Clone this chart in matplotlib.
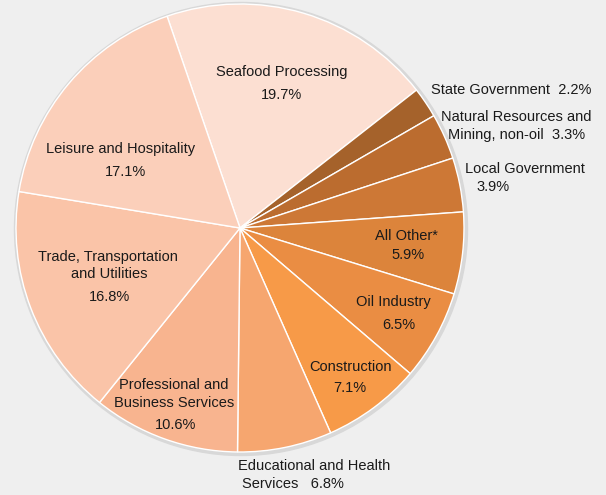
import matplotlib.pyplot as plt
from matplotlib.patches import Circle

plt.rcParams['font.family'] = ['Liberation Sans', 'DejaVu Sans']

# Share of employment by industry (clockwise from the top)
categories = ['Seafood Processing', 'State Government', 'Natural Resources and Mining, non-oil',
              'Local Government', 'All Other*', 'Oil Industry', 'Construction',
              'Educational and Health Services', 'Professional and Business Services',
              'Trade, Transportation and Utilities', 'Leisure and Hospitality']
shares = [19.7, 2.2, 3.3, 3.9, 5.9, 6.5, 7.1, 6.8, 10.6, 16.8, 17.1]
colors = ['#fcdfd2', '#a5622b', '#bb6c2f', '#cd7836', '#dc843b', '#ea8d43',
          '#f79a48', '#f6a66f', '#f8b48f', '#fac4a8', '#fbcfba']

# label text lines, pixel positions (x, y from top) and alignment
labels = {
    'Seafood Processing': [('Seafood Processing', 282, 72, 'center'), ('19.7%', 282, 95, 'center')],
    'State Government': [('State Government  2.2%', 511, 90, 'center')],
    'Natural Resources and Mining, non-oil': [('Natural Resources and', 516, 117, 'center'),
                                              ('Mining, non-oil  3.3%', 517, 135, 'center')],
    'Local Government': [('Local Government', 465, 169, 'left'), ('3.9%', 476, 187, 'left')],
    'All Other*': [('All Other*', 406, 236, 'center'), ('5.9%', 408, 255, 'center')],
    'Oil Industry': [('Oil Industry', 393, 302, 'center'), ('6.5%', 399, 325, 'center')],
    'Construction': [('Construction', 350, 367, 'center'), ('7.1%', 350, 388, 'center')],
    'Educational and Health Services': [('Educational and Health', 314, 466, 'center'),
                                        ('Services   6.8%', 293, 484, 'center')],
    'Professional and Business Services': [('Professional and', 174, 385, 'center'),
                                           ('Business Services', 174, 403, 'center'),
                                           ('10.6%', 176, 425, 'center')],
    'Trade, Transportation and Utilities': [('Trade, Transportation', 108, 257, 'center'),
                                            ('and Utilities', 109, 274, 'center'),
                                            ('16.8%', 110, 297, 'center')],
    'Leisure and Hospitality': [('Leisure and Hospitality', 121, 149, 'center'),
                                ('17.1%', 126, 172, 'center')],
}

W, H = 606, 495
cx, cy, r = 240, 228, 224

fig = plt.figure(figsize=(W / 100, H / 100), dpi=100)
fig.patch.set_facecolor('#efefef')
ax = fig.add_axes([0, 0, 1, 1])

# soft shadow around the pie
ax.add_patch(Circle((cx + 1, H - cy - 1), r + 2.5, color='#d8d8d8', zorder=0))

ax.pie(shares, colors=colors, startangle=109, counterclock=False,
       center=(cx, H - cy), radius=r, frame=True,
       wedgeprops=dict(edgecolor='white', linewidth=1))
ax.set_xlim(0, W)
ax.set_ylim(0, H)
ax.set_aspect('equal')
ax.axis('off')

for cat in categories:
    for text, x, y, ha in labels[cat]:
        ax.text(x, H - y, text, ha=ha, va='center', fontsize=10.5, color='#1a1a1a')

fig.savefig('out.png', dpi=100, facecolor=fig.get_facecolor())
